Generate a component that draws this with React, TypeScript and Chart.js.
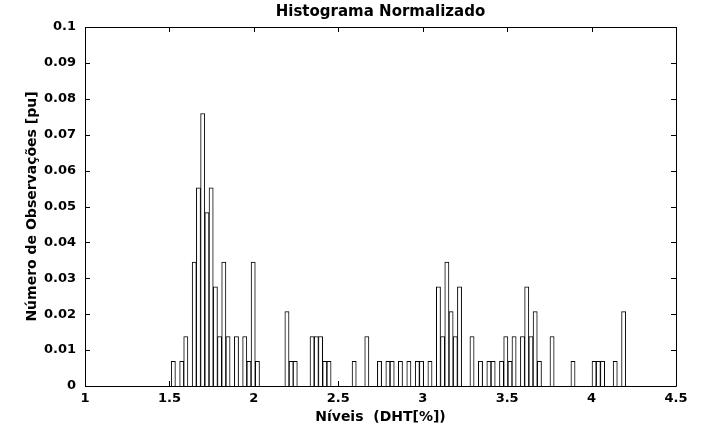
import React, { useEffect, useRef } from "react";
import { Chart, registerables } from "chart.js";

Chart.register(...registerables);

const chartTitle = "Histograma Normalizado";
const xAxisTitle = "Níveis  (DHT[%])";
const yAxisTitle = "Número de Observações [pu]";

// bin centres (DHT %)
const binCenters = [
  1.523, 1.573, 1.597, 1.647, 1.672, 1.697, 1.722, 1.747, 1.772, 1.797, 1.822, 1.847,
  1.897, 1.946, 1.971, 1.996, 2.021, 2.196, 2.221, 2.245,
  2.345, 2.370, 2.395, 2.420, 2.445,
  2.594, 2.669, 2.744, 2.794, 2.819, 2.868, 2.918, 2.968, 2.993, 3.043,
  3.093, 3.118, 3.143, 3.168, 3.193, 3.218,
  3.292, 3.342, 3.392, 3.417, 3.467, 3.492, 3.517, 3.541,
  3.591, 3.616, 3.641, 3.666, 3.691, 3.766,
  3.890, 4.015, 4.040, 4.065, 4.140, 4.190,
];

// normalised frequency [pu]
const frequencies = [
  0.0069, 0.0069, 0.0138, 0.0345, 0.0552, 0.0759, 0.0483, 0.0552, 0.0276, 0.0138, 0.0345, 0.0138,
  0.0138, 0.0138, 0.0069, 0.0345, 0.0069, 0.0207, 0.0069, 0.0069,
  0.0138, 0.0138, 0.0138, 0.0069, 0.0069,
  0.0069, 0.0138, 0.0069, 0.0069, 0.0069, 0.0069, 0.0069, 0.0069, 0.0069, 0.0069,
  0.0276, 0.0138, 0.0345, 0.0207, 0.0138, 0.0276,
  0.0138, 0.0069, 0.0069, 0.0069, 0.0069, 0.0138, 0.0069, 0.0138,
  0.0138, 0.0276, 0.0138, 0.0207, 0.0069, 0.0138,
  0.0069, 0.0069, 0.0069, 0.0069, 0.0069, 0.0207,
];

const xMin = 1;
const xMax = 4.5;
const xStep = 0.5;
const yMin = 0;
const yMax = 0.1;
const yStep = 0.01;

const fmt = (v: number) => String(Math.round(v * 1000) / 1000);

const framePlugin = {
  id: "frameTicks",
  beforeDatasetsDraw(chart: any) {
    const { ctx, chartArea } = chart;
    const { left, right, top, bottom } = chartArea;
    const xs = chart.scales.x;
    const ys = chart.scales.y;
    const tl = 5;
    ctx.save();
    ctx.strokeStyle = "#000";
    ctx.lineWidth = 1;
    ctx.beginPath();
    ctx.rect(Math.round(left) + 0.5, Math.round(top) + 0.5, Math.round(right - left), Math.round(bottom - top));
    for (const t of xs.ticks) {
      const px = Math.round(xs.getPixelForValue(t.value)) + 0.5;
      ctx.moveTo(px, bottom);
      ctx.lineTo(px, bottom - tl);
      ctx.moveTo(px, top);
      ctx.lineTo(px, top + tl);
    }
    for (const t of ys.ticks) {
      const py = Math.round(ys.getPixelForValue(t.value)) + 0.5;
      ctx.moveTo(left, py);
      ctx.lineTo(left + tl, py);
      ctx.moveTo(right, py);
      ctx.lineTo(right - tl, py);
    }
    ctx.stroke();
    ctx.restore();
  },
};

export default function App() {
  const ref = useRef<HTMLCanvasElement>(null);

  useEffect(() => {
    document.body.style.margin = "0";
    const canvas = ref.current;
    if (!canvas) return;
    const fam = "'DejaVu Sans', Verdana, sans-serif";
    const tickFont = { family: fam, size: 13, weight: "bold" as const };
    const titleFont = { family: fam, size: 14, weight: "bold" as const };
    const chart = new Chart(canvas, {
      type: "bar",
      data: {
        datasets: [
          {
            data: binCenters.map((x, i) => ({ x, y: frequencies[i] })),
            backgroundColor: "#ffffff",
            borderColor: "#000000",
            borderWidth: 1,
            barThickness: 4.2,
            borderSkipped: "start",
          },
        ],
      },
      options: {
        responsive: false,
        animation: false,
        layout: { padding: { left: 0, right: 25, top: 0, bottom: 0 } },
        plugins: {
          legend: { display: false },
          tooltip: { enabled: false },
          title: {
            display: true,
            text: chartTitle,
            fullSize: false,
            color: "#000",
            font: { family: fam, size: 15, weight: "bold" },
            padding: { top: 3, bottom: 6 },
          },
        },
        scales: {
          x: {
            type: "linear",
            min: xMin,
            max: xMax,
            offset: false,
            grid: { display: false, drawTicks: false, offset: false },
            border: { display: false },
            ticks: {
              stepSize: xStep,
              color: "#000",
              font: tickFont,
              padding: 5,
              maxRotation: 0,
              autoSkip: false,
              callback: (v: any) => fmt(Number(v)),
            },
            title: {
              display: true,
              text: xAxisTitle,
              color: "#000",
              font: titleFont,
              padding: { top: 0, bottom: 4 },
            },
            afterFit: (s: any) => {
              s.height = 44;
            },
          },
          y: {
            type: "linear",
            min: yMin,
            max: yMax,
            grid: { display: false, drawTicks: false },
            border: { display: false },
            ticks: {
              stepSize: yStep,
              color: "#000",
              font: tickFont,
              padding: 9,
              autoSkip: false,
              callback: (v: any) => fmt(Number(v)),
            },
            title: {
              display: true,
              text: yAxisTitle,
              color: "#000",
              font: titleFont,
              padding: { top: 24, bottom: 0 },
            },
            afterFit: (s: any) => {
              s.width = 85;
            },
          },
        },
      },
      plugins: [framePlugin],
    });
    return () => chart.destroy();
  }, []);

  return (
    <div style={{ width: 701, height: 430, background: "#fff" }}>
      <canvas ref={ref} width={701} height={430} style={{ display: "block" }} />
    </div>
  );
}
